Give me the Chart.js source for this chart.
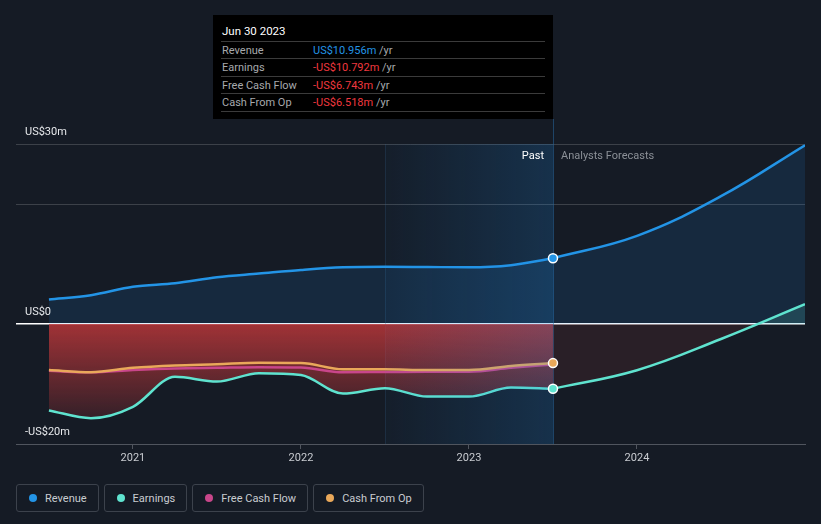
<!DOCTYPE html>
<html><head><meta charset="utf-8">
<script src="https://cdn.jsdelivr.net/npm/chart.js@4/dist/chart.umd.min.js"></script>
<style>
html,body{margin:0;padding:0;background:#151b25;width:821px;height:524px;overflow:hidden;font-family:Roboto,"Noto Sans",sans-serif;}
#wrap{position:absolute;left:0;top:0;width:821px;height:480px;}
#tip{position:absolute;left:213px;top:15px;width:340px;height:104px;background:#000;font-size:11px;}
#tip .title{position:absolute;left:9px;top:9px;color:#fff;font-size:11.5px;}
#tip .sep{position:absolute;left:8px;width:324px;height:1px;background:#3b3b3b;}
#tip .lab{position:absolute;left:9px;color:#a7a9ad;}
#tip .val{position:absolute;left:100px;}
#tip .val span{color:#a7a9ad;}
#legend{position:absolute;left:16px;top:484px;display:flex;gap:5px;}
.item{box-sizing:border-box;height:28px;border:1px solid #3c424c;border-radius:3px;display:flex;align-items:center;padding:0 11px 0 12px;color:#c9ccd1;font-size:11px;}
.dot{width:8px;height:8px;border-radius:50%;margin-right:8px;}
</style></head>
<body>
<div id="wrap"><canvas id="c" width="821" height="480"></canvas></div>
<div id="tip"></div>
<div id="legend"></div>
<script>
// ---- data ----
const seriesNames = ['Revenue', 'Earnings', 'Free Cash Flow', 'Cash From Op'];
const pastX = [2020.5, 2020.75, 2021.0, 2021.25, 2021.5, 2021.75, 2022.0, 2022.25, 2022.5, 2022.75, 2023.0, 2023.25, 2023.5];
const revenuePast = [4.1, 4.8, 6.2, 6.8, 7.8, 8.4, 9.0, 9.45, 9.55, 9.5, 9.45, 9.8, 10.956];
const earningsPast = [-14.4, -15.7, -13.8, -8.8, -9.6, -8.2, -8.5, -11.6, -10.7, -12.1, -12.1, -10.6, -10.792];
const fcfPast = [-7.8, -8.05, -7.67, -7.4, -7.3, -7.2, -7.25, -8.05, -8.0, -7.95, -7.95, -7.3, -6.743];
const cfoPast = [-7.67, -8.05, -7.3, -6.9, -6.7, -6.45, -6.5, -7.55, -7.55, -7.67, -7.67, -7.0, -6.518];
const forecastX = [2023.5, 2024.0, 2024.5, 2025.0];
const revenueForecast = [10.956, 14.7, 21.3, 29.8];
const earningsForecast = [-10.792, -7.7, -2.5, 3.3];
const xTicks = [2021, 2022, 2023, 2024];
const yLabels = [{v: 30, t: 'US$30m'}, {v: 0, t: 'US$0'}, {v: -20, t: '-US$20m'}];
const tooltipTitle = 'Jun 30 2023';
const highlightStart = 2022.5;
const pastEnd = 2023.5;

const colors = ['#2394e6', '#5fe3cf', '#c8468a', '#e9a85a'];

const pts = (xs, ys) => xs.map((x, i) => ({x, y: ys[i]}));
const fmt = v => (v < 0 ? '-' : '') + 'US$' + Math.abs(v).toFixed(3) + 'm';

// tooltip
const tip = document.getElementById('tip');
const lastVals = [revenuePast, earningsPast, fcfPast, cfoPast].map(a => a[a.length - 1]);
let html = '<div class="title">' + tooltipTitle + '</div>';
const sepY = [26, 43, 61, 78, 96];
sepY.forEach(y => html += '<div class="sep" style="top:' + y + 'px"></div>');
seriesNames.forEach((n, i) => {
  const top = sepY[i] + 1;
  const c = lastVals[i] < 0 ? '#f0383f' : '#2394e6';
  html += '<div class="lab" style="top:' + top + 'px;line-height:17px">' + n + '</div>';
  html += '<div class="val" style="top:' + top + 'px;line-height:17px;color:' + c + '">' + fmt(lastVals[i]) + ' <span>/yr</span></div>';
});
tip.innerHTML = html;

// legend
document.getElementById('legend').innerHTML = seriesNames.map((n, i) =>
  '<div class="item"><div class="dot" style="background:' + colors[i] + '"></div>' + n + '</div>').join('');

function redGrad(ctx) {
  const ch = ctx.chart;
  if (!ch.chartArea) return 'rgba(205,60,60,0.4)';
  const y = ch.scales.y;
  const g = ch.ctx.createLinearGradient(0, y.getPixelForValue(0), 0, y.getPixelForValue(-16));
  g.addColorStop(0, 'rgba(205,58,60,0.76)');
  g.addColorStop(1, 'rgba(205,58,60,0.16)');
  return g;
}

let overlayDone = false;
const deco = {
  id: 'deco',
  beforeDatasetsDraw(chart) {
    overlayDone = false;
    const {ctx, chartArea: a, scales: {x}} = chart;
    const xh = x.getPixelForValue(highlightStart), xp = x.getPixelForValue(pastEnd);
    ctx.save();
    ctx.lineWidth = 1;
    ctx.strokeStyle = 'rgba(50,90,130,0.25)';
    ctx.beginPath(); ctx.moveTo(Math.round(xh) + 0.5, a.top); ctx.lineTo(Math.round(xh) + 0.5, a.bottom); ctx.stroke();
    ctx.strokeStyle = 'rgba(40,110,170,0.5)';
    ctx.beginPath(); ctx.moveTo(Math.round(xp) + 0.5, 119); ctx.lineTo(Math.round(xp) + 0.5, a.bottom); ctx.stroke();
    ctx.restore();
  },
  beforeDatasetDraw(chart, args) {
    if (overlayDone || !chart.data.datasets[args.index].isMarker) return;
    overlayDone = true;
    const {ctx, chartArea: a, scales: {x}} = chart;
    const xh = x.getPixelForValue(highlightStart), xp = x.getPixelForValue(pastEnd);
    const g = ctx.createLinearGradient(xh, 0, xp, 0);
    g.addColorStop(0, 'rgba(30,140,230,0.03)');
    g.addColorStop(1, 'rgba(30,140,230,0.2)');
    ctx.save();
    ctx.fillStyle = g;
    ctx.fillRect(xh, a.top, xp - xh, a.bottom - a.top);
    ctx.restore();
  },
  afterDraw(chart) {
    const {ctx, chartArea: a, scales: {x, y}} = chart;
    ctx.save();
    ctx.font = '11px Roboto, "Noto Sans", sans-serif';
    ctx.textBaseline = 'middle';
    ctx.fillStyle = '#e6e8eb';
    yLabels.forEach(l => ctx.fillText(l.t, 25, y.getPixelForValue(l.v) - 12));
    const xp = x.getPixelForValue(pastEnd);
    ctx.textAlign = 'right';
    ctx.fillStyle = '#ffffff';
    ctx.fillText('Past', xp - 9, a.top + 12);
    ctx.textAlign = 'left';
    ctx.fillStyle = '#8b9097';
    ctx.fillText('Analysts Forecasts', xp + 8, a.top + 12);
    ctx.restore();
  }
};

const lineBase = {pointRadius: 0, borderWidth: 2.5, cubicInterpolationMode: 'monotone'};
const fcBase = {pointRadius: 0, borderWidth: 2.5, tension: 0.4};
const marker = (x, yv, c) => ({
  data: [{x, y: yv}], isMarker: true, showLine: false, order: 0,
  pointRadius: 4.5, pointBorderWidth: 1.5, pointBorderColor: '#ffffff', pointBackgroundColor: c
});

new Chart(document.getElementById('c'), {
  type: 'line',
  data: {
    datasets: [
      marker(pastEnd, revenuePast[revenuePast.length - 1], colors[0]),
      marker(pastEnd, earningsPast[earningsPast.length - 1], colors[1]),
      marker(pastEnd, cfoPast[cfoPast.length - 1], colors[3]),
      Object.assign({label: 'Cash From Op', data: pts(pastX, cfoPast), borderColor: colors[3], order: 1, fill: false}, lineBase),
      Object.assign({label: 'Free Cash Flow', data: pts(pastX, fcfPast), borderColor: colors[2], order: 2, fill: false}, lineBase),
      Object.assign({label: 'Earnings', data: pts(pastX, earningsPast), borderColor: colors[1], order: 3, fill: 'origin', backgroundColor: redGrad}, lineBase),
      Object.assign({label: 'Earnings F', data: pts(forecastX, earningsForecast), borderColor: colors[1], order: 3,
        fill: {target: 'origin', above: 'rgba(95,227,207,0.16)', below: 'rgba(205,60,60,0.11)'}}, fcBase),
      Object.assign({label: 'Revenue', data: pts(pastX, revenuePast), borderColor: colors[0], order: 5, fill: 'origin', backgroundColor: 'rgba(33,150,243,0.12)'}, lineBase),
      Object.assign({label: 'Revenue F', data: pts(forecastX, revenueForecast), borderColor: colors[0], order: 5, fill: 'origin', backgroundColor: 'rgba(33,150,243,0.12)'}, fcBase)
    ]
  },
  options: {
    responsive: false, animation: false, events: [],
    layout: {padding: {left: 16, right: 16, top: 144, bottom: 0}},
    plugins: {legend: {display: false}, tooltip: {enabled: false}},
    scales: {
      x: {
        type: 'linear', min: 2020.304, max: 2025.0,
        afterBuildTicks: s => { s.ticks = xTicks.map(v => ({value: v})); },
        afterFit: s => { s.height = 36; },
        ticks: {color: '#c9ccd1', font: {size: 11, family: 'Roboto'}, padding: 3, callback: v => String(v), maxRotation: 0},
        grid: {drawOnChartArea: false, drawTicks: true, tickLength: 5, color: '#50555e'},
        border: {color: '#50555e', width: 1}
      },
      y: {
        min: -20, max: 30,
        afterFit: s => { s.width = 0; },
        ticks: {display: false, stepSize: 10},
        border: {display: false},
        grid: {
          drawTicks: false,
          color: c => c.tick.value === 0 ? '#ffffff' : (c.tick.value >= 20 ? 'rgba(255,255,255,0.17)' : 'rgba(0,0,0,0)'),
          lineWidth: c => c.tick.value === 0 ? 1.5 : 1
        }
      }
    }
  },
  plugins: [deco]
});
</script>
</body></html>
